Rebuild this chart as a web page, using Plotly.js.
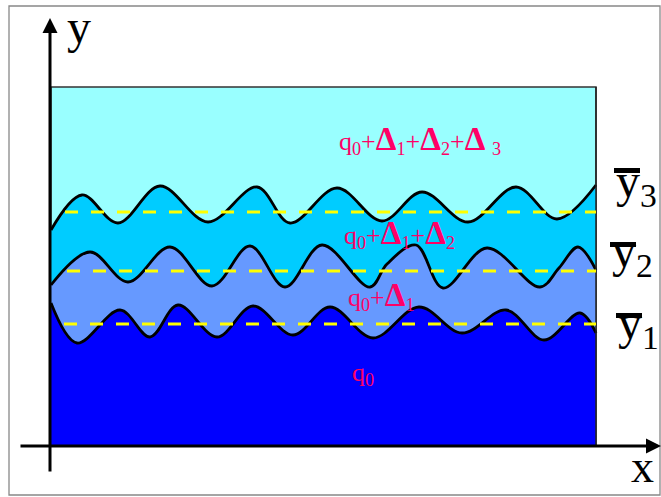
<!DOCTYPE html>
<html>
<head>
<meta charset="utf-8">
<script src="https://cdn.plot.ly/plotly-3.0.1.min.js"></script>
<style>html,body{margin:0;padding:0;background:#fff;}#chart{width:661px;height:497px;}</style>
</head>
<body>
<div id="chart"></div>
<script>
// Schematic coordinates: origin at the axes crossing, y upward.
var regionX = [1, 1, 546, 546];
var regionY = [0, 359, 359, 0];

var wave3X = [1, 32, 68, 110, 158, 207, 240, 287, 332, 372, 418, 466, 507, 546];
var wave3Y = [216, 251, 223, 260, 224, 259, 223, 258, 225, 254, 224, 259, 227, 261];

var wave2X = [1, 40, 78, 120, 162, 200, 235, 272, 320, 337, 366, 393, 437, 490, 509, 528, 546];
var wave2Y = [161, 194, 164, 199, 160, 200, 159, 201, 159, 182, 201, 158, 198, 159, 178, 199, 176];

var wave1X = [1, 27, 70, 100, 128, 167, 203, 243, 280, 323, 369, 412, 456, 494, 530, 546];
var wave1Y = [143, 103, 136, 109, 141, 109, 140, 111, 139, 108, 139, 113, 136, 106, 133, 113];

var meanStartX = [15, 17, 14];
var meanEndX = [546, 546, 546];
var meanY = [234, 175, 122];

var bandColors = ['#99FFFF', '#00CCFF', '#6699FF', '#0000FF'];

var D = '<span style="font-size:33px"><b>Δ</b></span>';
var bandLabels = [
  'q<sub>0</sub>+' + D + '<sub>1</sub>+' + D + '<sub>2</sub>+' + D + ' <sub>3</sub>',
  'q<sub>0</sub>+' + D + '<sub>1</sub>+' + D + '<sub>2</sub>',
  'q<sub>0</sub>+' + D + '<sub>1</sub>',
  'q<sub>0</sub>'
];
var bandLabelX = [287, 292, 296, 300];
var bandLabelY = [306, 212, 150, 72];

var meanLabels = ['y<sub>3</sub>', 'y<sub>2</sub>', 'y<sub>1</sub>'];
var meanLabelX = [564, 560, 566];
var meanLabelY = [262, 192, 120];
var barX0 = [564, 560, 566];
var barX1 = [590, 586, 592];
var barY = [275.5, 201.5, 130.5];

var serif = 'Liberation Serif, Times New Roman, serif';
var pink = '#FF0066';

var traces = [
  {x: regionX, y: regionY, mode: 'lines', fill: 'toself', fillcolor: bandColors[0],
   line: {color: '#333', width: 1.5}, hoverinfo: 'skip'},
  {x: wave3X, y: wave3Y, mode: 'lines', fill: 'tozeroy', fillcolor: bandColors[1],
   line: {color: '#000', width: 2.8, shape: 'spline', smoothing: 1}, hoverinfo: 'skip'},
  {x: wave2X, y: wave2Y, mode: 'lines', fill: 'tozeroy', fillcolor: bandColors[2],
   line: {color: '#000', width: 2.8, shape: 'spline', smoothing: 1}, hoverinfo: 'skip'},
  {x: wave1X, y: wave1Y, mode: 'lines', fill: 'tozeroy', fillcolor: bandColors[3],
   line: {color: '#000', width: 2.8, shape: 'spline', smoothing: 1}, hoverinfo: 'skip'},
  {x: [regionX[2], regionX[3]], y: [regionY[2], regionY[3]], mode: 'lines',
   line: {color: '#222', width: 1.5}, hoverinfo: 'skip'}
];
for (var i = 0; i < meanY.length; i++) {
  traces.push({x: [meanStartX[i], meanEndX[i]], y: [meanY[i], meanY[i]], mode: 'lines',
    line: {color: '#FFFF00', width: 3, dash: '13px,13px'}, hoverinfo: 'skip'});
}

var annotations = [];
for (var j = 0; j < bandLabels.length; j++) {
  annotations.push({x: bandLabelX[j], y: bandLabelY[j], xref: 'x', yref: 'y', text: bandLabels[j],
    showarrow: false, xanchor: 'left', yanchor: 'middle',
    font: {family: serif, size: 26, color: pink}});
}
for (var k = 0; k < meanLabels.length; k++) {
  annotations.push({x: meanLabelX[k], y: meanLabelY[k], xref: 'x', yref: 'y', text: meanLabels[k],
    showarrow: false, xanchor: 'left', yanchor: 'middle',
    font: {family: serif, size: 48, color: '#000'}});
}
// axis arrows
annotations.push({x: 0, y: 428, ax: 0, ay: -27, xref: 'x', yref: 'y', axref: 'x', ayref: 'y',
  showarrow: true, arrowhead: 2, arrowsize: 1, arrowwidth: 3, arrowcolor: '#000', text: ''});
annotations.push({x: 611, y: 0, ax: -31, ay: 0, xref: 'x', yref: 'y', axref: 'x', ayref: 'y',
  showarrow: true, arrowhead: 2, arrowsize: 1, arrowwidth: 3, arrowcolor: '#000', text: ''});
// axis names
annotations.push({x: 15, y: 420, xref: 'x', yref: 'y', text: 'y', showarrow: false,
  xanchor: 'left', yanchor: 'middle', font: {family: serif, size: 48, color: '#000'}});
annotations.push({x: 579, y: -20, xref: 'x', yref: 'y', text: 'x', showarrow: false,
  xanchor: 'left', yanchor: 'middle', font: {family: serif, size: 46, color: '#000'}});

var shapes = [
  {type: 'rect', xref: 'x', yref: 'y', x0: -41, x1: 610, y0: -49, y1: 440,
   line: {color: '#888', width: 1.3}, fillcolor: 'rgba(0,0,0,0)'}
];
for (var m = 0; m < barY.length; m++) {
  shapes.push({type: 'line', xref: 'x', yref: 'y', x0: barX0[m], x1: barX1[m], y0: barY[m], y1: barY[m],
    line: {color: '#000', width: 5}});
}

var layout = {
  width: 661, height: 497,
  margin: {l: 0, r: 0, t: 0, b: 0},
  paper_bgcolor: '#fff', plot_bgcolor: '#fff',
  showlegend: false,
  xaxis: {range: [-50, 611], visible: false, fixedrange: true},
  yaxis: {range: [-51, 446], visible: false, fixedrange: true},
  annotations: annotations,
  shapes: shapes
};
Plotly.newPlot('chart', traces, layout, {staticPlot: true, displayModeBar: false});
</script>
</body>
</html>
